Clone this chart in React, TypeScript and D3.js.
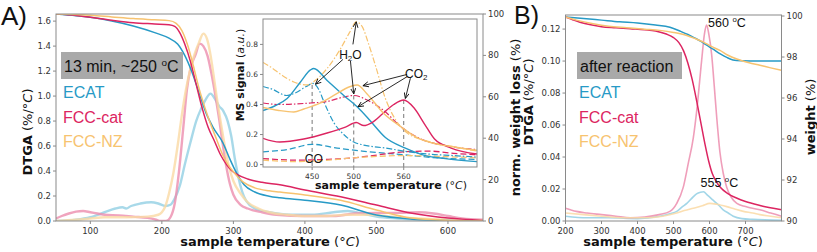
import React from 'react';
import * as d3 from 'd3';

type Pt = [number, number];

// sample names and colours (solid TGA line, light DTGA trace)
const samples = ['ECAT', 'FCC-cat', 'FCC-NZ'];
const lineColors = ['#279ac6', '#dc2561', '#f7c370'];
const traceColors = ['#92cfe4', '#ec8dae', '#fad9a4'];

// ---- panel A: normalised weight loss (%) vs temperature
const aEcatLoss: Pt[] = [[52, 100], [80, 99.2], [100, 98.4], [130, 96.6], [160, 94.2], [190, 91], [210, 88.3], [222, 85.5], [232, 80], [242, 72], [252, 62], [262, 52], [272, 45], [285, 38], [295, 30], [304, 23.5], [315, 17.5], [330, 14], [350, 12], [365, 11.2], [400, 10], [450, 7.7], [500, 2.9], [550, 0.9], [600, 0.2], [649, 0]];
const aCatLoss: Pt[] = [[52, 100], [80, 99.3], [100, 98.4], [130, 97], [160, 95.8], [190, 95.2], [210, 94.8], [218, 94], [225, 91], [232, 85.5], [240, 77], [248, 66], [256, 55], [265, 45], [273, 39], [282, 32], [290, 27.5], [297, 24.5], [305, 22.5], [320, 20.3], [340, 18.7], [365, 17.5], [400, 15], [450, 11.7], [500, 7.7], [550, 3.7], [600, 1.4], [649, 0.3]];
const aNzLoss: Pt[] = [[52, 100], [80, 99.8], [100, 99.4], [130, 98.6], [160, 97.8], [190, 97.2], [210, 96.8], [220, 95.5], [228, 92], [236, 85], [244, 75], [252, 64], [260, 55], [268, 47], [277, 39], [285, 32], [293, 27], [302, 23], [315, 18.5], [330, 16], [350, 14.6], [365, 14], [400, 12.6], [450, 10], [500, 5.3], [550, 1.4], [600, 0.3], [649, 0]];

// ---- panel A: DTGA (%/°C)
const aEcatDtga: Pt[] = [[52, 0], [80, 0.01], [100, 0.03], [120, 0.07], [135, 0.1], [145, 0.11], [150, 0.1], [157, 0.12], [170, 0.14], [185, 0.15], [195, 0.14], [205, 0.12], [212, 0.13], [218, 0.18], [225, 0.28], [232, 0.45], [240, 0.63], [248, 0.8], [255, 0.9], [262, 0.98], [268, 1.02], [274, 0.98], [280, 0.92], [286, 0.88], [292, 0.8], [297, 0.68], [302, 0.5], [307, 0.35], [312, 0.24], [318, 0.16], [330, 0.1], [350, 0.07], [380, 0.05], [410, 0.05], [440, 0.07], [460, 0.08], [480, 0.06], [500, 0.035], [530, 0.02], [560, 0.01], [600, 0.005], [649, 0]];
const aCatDtga: Pt[] = [[52, 0.02], [60, 0.04], [70, 0.06], [80, 0.075], [90, 0.08], [100, 0.07], [110, 0.06], [120, 0.05], [140, 0.045], [160, 0.035], [180, 0.025], [192, 0.01], [198, 0], [206, 0], [212, 0.03], [218, 0.14], [224, 0.4], [230, 0.75], [235, 1.05], [240, 1.22], [247, 1.33], [253, 1.42], [258, 1.4], [264, 1.32], [270, 1.16], [275, 1.0], [280, 0.82], [285, 0.62], [290, 0.44], [295, 0.3], [300, 0.21], [310, 0.13], [320, 0.1], [340, 0.07], [360, 0.05], [400, 0.04], [440, 0.04], [470, 0.06], [500, 0.065], [530, 0.065], [560, 0.07], [580, 0.06], [600, 0.04], [620, 0.02], [649, 0.01]];
const aNzDtga: Pt[] = [[52, 0], [80, 0.01], [100, 0.02], [120, 0.03], [150, 0.03], [180, 0.035], [195, 0.05], [200, 0.07], [205, 0.12], [210, 0.22], [216, 0.38], [222, 0.6], [228, 0.85], [234, 1.06], [240, 1.22], [246, 1.34], [252, 1.43], [258, 1.5], [263, 1.46], [268, 1.33], [272, 1.18], [277, 0.98], [282, 0.8], [288, 0.6], [294, 0.43], [300, 0.32], [310, 0.22], [320, 0.15], [335, 0.1], [350, 0.07], [375, 0.05], [400, 0.04], [430, 0.04], [460, 0.05], [490, 0.05], [520, 0.035], [560, 0.02], [600, 0.01], [649, 0.005]];

// ---- inset: MS signal (a.u.), H2O (dash-dot), CO2 (solid), CO (dashed)
const msEcatH2O: Pt[] = [[391, 0.52], [403, 0.5], [419, 0.46], [431, 0.48], [443, 0.52], [451, 0.54], [458, 0.5], [464, 0.42], [476, 0.28], [488, 0.2], [500, 0.15], [512, 0.13], [538, 0.11], [560, 0.09], [590, 0.07], [620, 0.06], [648, 0.05]];
const msCatH2O: Pt[] = [[391, 0.41], [411, 0.4], [448, 0.41], [468, 0.42], [488, 0.45], [500, 0.46], [516, 0.43], [536, 0.36], [557, 0.25], [577, 0.18], [617, 0.12], [648, 0.1]];
const msNzH2O: Pt[] = [[391, 0.68], [400, 0.65], [415, 0.59], [428, 0.55], [444, 0.53], [456, 0.57], [468, 0.64], [484, 0.77], [495, 0.88], [503, 0.95], [510, 0.92], [518, 0.8], [526, 0.66], [538, 0.44], [550, 0.3], [562, 0.22], [586, 0.16], [610, 0.13], [648, 0.09]];
const msEcatCO2: Pt[] = [[391, 0.36], [405, 0.39], [420, 0.44], [436, 0.55], [448, 0.63], [452, 0.64], [468, 0.56], [488, 0.46], [505, 0.38], [520, 0.29], [538, 0.18], [562, 0.11], [586, 0.06], [610, 0.04], [648, 0.02]];
const msCatCO2: Pt[] = [[391, 0.175], [411, 0.15], [440, 0.17], [468, 0.21], [490, 0.25], [503, 0.28], [512, 0.26], [522, 0.28], [535, 0.34], [548, 0.4], [560, 0.43], [572, 0.38], [585, 0.27], [597, 0.17], [617, 0.11], [648, 0.07]];
const msNzCO2: Pt[] = [[391, 0.38], [410, 0.36], [428, 0.35], [440, 0.37], [460, 0.41], [476, 0.46], [496, 0.52], [504, 0.53], [516, 0.47], [536, 0.34], [557, 0.25], [576, 0.18], [597, 0.14], [617, 0.12], [648, 0.095]];
const msEcatCO: Pt[] = [[391, 0.085], [420, 0.1], [450, 0.135], [480, 0.11], [510, 0.09], [540, 0.075], [570, 0.06], [600, 0.045], [648, 0.035]];
const msCatCO: Pt[] = [[391, 0.04], [430, 0.03], [470, 0.035], [500, 0.045], [530, 0.065], [560, 0.085], [590, 0.09], [620, 0.075], [648, 0.065]];
const msNzCO: Pt[] = [[391, 0.03], [430, 0.02], [470, 0.03], [500, 0.045], [530, 0.055], [560, 0.06], [600, 0.055], [648, 0.045]];
const msMarks = [450, 500, 560];
const msMarkTops = [0.53, 0.46, 0.43];

// ---- panel B: weight (%) and DTGA after reaction
const bEcatWeight: Pt[] = [[200, 99.95], [250, 99.88], [300, 99.8], [350, 99.72], [400, 99.66], [450, 99.56], [490, 99.45], [520, 99.25], [540, 99.1], [560, 98.92], [575, 98.78], [590, 98.6], [610, 98.38], [630, 98.15], [648, 97.98], [665, 97.86], [690, 97.82], [740, 97.8], [800, 97.8]];
const bCatWeight: Pt[] = [[200, 99.95], [220, 99.82], [240, 99.7], [270, 99.57], [300, 99.48], [340, 99.43], [380, 99.38], [420, 99.33], [450, 99.27], [480, 99.12], [500, 98.95], [515, 98.7], [528, 98.3], [540, 97.7], [552, 96.9], [565, 95.8], [577, 94.7], [588, 93.7], [598, 92.9], [608, 92.3], [618, 91.95], [630, 91.65], [650, 91.35], [675, 91.12], [700, 90.95], [740, 90.76], [800, 90.55]];
const bNzWeight: Pt[] = [[200, 99.95], [230, 99.8], [277, 99.62], [320, 99.5], [370, 99.43], [420, 99.36], [462, 99.3], [500, 99.2], [537, 99.05], [560, 98.9], [583, 98.73], [605, 98.52], [629, 98.32], [650, 98.1], [676, 97.9], [710, 97.72], [740, 97.6], [770, 97.47], [800, 97.35]];
const bEcatDtga: Pt[] = [[200, 0.003], [260, 0.002], [320, 0.002], [400, 0.0015], [462, 0.003], [490, 0.0045], [509, 0.006], [525, 0.009], [537, 0.011], [550, 0.014], [564, 0.017], [575, 0.018], [583, 0.0183], [595, 0.016], [610, 0.013], [625, 0.01], [638, 0.007], [652, 0.005], [666, 0.003], [690, 0.0015], [720, 0.001], [800, 0.0005]];
const bCatDtga: Pt[] = [[200, 0.008], [230, 0.006], [260, 0.005], [300, 0.004], [340, 0.003], [380, 0.002], [420, 0.0025], [460, 0.004], [490, 0.006], [509, 0.011], [527, 0.021], [541, 0.036], [555, 0.052], [565, 0.07], [578, 0.1], [586, 0.117], [592, 0.1225], [598, 0.117], [606, 0.104], [613, 0.085], [620, 0.065], [629, 0.043], [638, 0.03], [648, 0.021], [660, 0.015], [676, 0.011], [700, 0.009], [740, 0.007], [770, 0.005], [800, 0.003]];
const bNzDtga: Pt[] = [[200, 0.005], [250, 0.004], [300, 0.003], [360, 0.002], [420, 0.002], [470, 0.003], [509, 0.005], [530, 0.0065], [555, 0.008], [580, 0.0095], [601, 0.011], [620, 0.0105], [648, 0.009], [670, 0.0075], [694, 0.006], [720, 0.005], [740, 0.004], [770, 0.003], [800, 0.002]];

// ---- ticks
const aXTicks = [100, 200, 300, 400, 500, 600];
const aYTicks = [0, 0.2, 0.4, 0.6, 0.8, 1.0, 1.2, 1.4, 1.6];
const aY2Ticks = [0, 20, 40, 60, 80, 100];
const msXTicks = [450, 500, 560];
const msYTicks = [0, 0.2, 0.4, 0.6, 0.8];
const bXTicks = [200, 300, 400, 500, 600, 700];
const bYTicks = [0, 0.02, 0.04, 0.06, 0.08, 0.1, 0.12];
const bY2Ticks = [90, 92, 94, 96, 98, 100];

const TICK_FONT = 'DejaVu Sans, sans-serif';
const LABEL_FONT = 'DejaVu Sans, sans-serif';
const NOTE_FONT = 'Liberation Sans, Arial, sans-serif';
const SPINE = '#8a8a8a';
const TICK_TEXT = '#333';

type Scale = d3.ScaleLinear<number, number>;

function line(sx: Scale, sy: Scale) {
  return d3.line<Pt>().x(d => sx(d[0])).y(d => sy(d[1])).curve(d3.curveMonotoneX);
}

function Ticks({ scale, ticks, side, at, fmt, fs }: { scale: Scale; ticks: number[]; side: 'left' | 'right' | 'bottom'; at: number; fmt: (v: number) => string; fs: number }) {
  return (
    <g fontFamily={TICK_FONT} fontSize={fs} fill={TICK_TEXT}>
      {ticks.map(t => {
        const p = scale(t);
        if (side === 'bottom') {
          return (
            <g key={t}>
              <line x1={p} x2={p} y1={at} y2={at + 3} stroke={SPINE} />
              <text x={p} y={at + 4 + fs} textAnchor="middle">{fmt(t)}</text>
            </g>
          );
        }
        const dir = side === 'left' ? -1 : 1;
        return (
          <g key={t}>
            <line x1={at} x2={at + dir * 3} y1={p} y2={p} stroke={SPINE} />
            <text x={at + dir * 5} y={p} dy="0.35em" textAnchor={side === 'left' ? 'end' : 'start'}>{fmt(t)}</text>
          </g>
        );
      })}
    </g>
  );
}

function DegC({ size }: { size: number }) {
  return (
    <>
      <tspan fontSize={size * 0.62} dy={-size * 0.38}>o</tspan>
      <tspan dy={size * 0.38}>C</tspan>
    </>
  );
}

function Legend({ x, y, box, w, deg }: { x: number; y: number; box: string; w: number; deg: boolean }) {
  return (
    <g fontFamily={NOTE_FONT} fontSize={16}>
      <rect x={x} y={y} width={w} height={27} fill="#a9a9a9" />
      <text x={x + 3} y={y + 20} fill="#111">
        {box}{deg ? <DegC size={16} /> : null}
      </text>
      {samples.map((s, i) => (
        <text key={s} x={x + 2} y={y + 46 + i * 24.5} fill={lineColors[i]}>{s}</text>
      ))}
    </g>
  );
}

export default function App() {
  // panel A
  const ax = d3.scaleLinear().domain([52, 649]).range([56, 483]);
  const ay = d3.scaleLinear().domain([0, 1.657]).range([221, 14]);
  const ay2 = d3.scaleLinear().domain([0, 100]).range([221, 14]);
  // inset
  const ix = d3.scaleLinear().domain([391, 648]).range([263, 477]);
  const iy = d3.scaleLinear().domain([-0.016, 0.969]).range([167, 19]);
  // panel B
  const bx = d3.scaleLinear().domain([200, 800]).range([565.5, 781.5]);
  const by = d3.scaleLinear().domain([0, 0.1288]).range([221, 15]);
  const by2 = d3.scaleLinear().domain([90, 100.05]).range([221, 15]);

  const aDtga = line(ax, ay);
  const aLoss = line(ax, ay2);
  const ms = line(ix, iy);
  const bDtga = line(bx, by);
  const bW = line(bx, by2);

  const aTraces = [aEcatDtga, aCatDtga, aNzDtga];
  const aLines = [aEcatLoss, aCatLoss, aNzLoss];
  const h2o = [msEcatH2O, msCatH2O, msNzH2O];
  const co2 = [msEcatCO2, msCatCO2, msNzCO2];
  const co = [msEcatCO, msCatCO, msNzCO];
  const bTraces = [bEcatDtga, bCatDtga, bNzDtga];
  const bLines = [bEcatWeight, bCatWeight, bNzWeight];

  // annotation arrows in inset data coordinates: [from, to]
  const h2oArrows: [Pt, Pt][] = [[[499, 0.8], [503, 0.95]], [[487, 0.7], [454, 0.535]], [[496, 0.69], [500, 0.47]]];
  const co2Arrows: [Pt, Pt][] = [[[564, 0.6], [511, 0.525]], [[564, 0.585], [505, 0.385]], [[568, 0.575], [562, 0.44]]];

  return (
    <svg width={817} height={252} style={{ position: 'absolute', left: 0, top: 0, background: '#fff' }}>
      <defs>
        <clipPath id="clipA"><rect x={56} y={14} width={427} height={207} /></clipPath>
        <clipPath id="clipI"><rect x={263} y={19} width={214} height={148} /></clipPath>
        <clipPath id="clipB"><rect x={565.5} y={15} width={216} height={206} /></clipPath>
        <marker id="arr" viewBox="0 0 10 10" refX={9} refY={5} markerWidth={7} markerHeight={7} orient="auto-start-reverse">
          <path d="M0,1 L9,5 L0,9" fill="none" stroke="#111" strokeWidth={1.4} />
        </marker>
      </defs>

      {/* ---------- panel A ---------- */}
      <text x={1} y={25} fontFamily={NOTE_FONT} fontSize={26} fill="#111">A)</text>
      <g clipPath="url(#clipA)">
        {aTraces.map((d, i) => (
          <path key={i} d={aDtga(d) || ''} fill="none" stroke={traceColors[i]} strokeWidth={2.4} opacity={0.8} />
        ))}
        {aLines.map((d, i) => (
          <path key={i} d={aLoss(d) || ''} fill="none" stroke={lineColors[i]} strokeWidth={1.5} />
        ))}
      </g>
      <rect x={56} y={14} width={427} height={207} fill="none" stroke={SPINE} />
      <Ticks scale={ax} ticks={aXTicks} side="bottom" at={221} fmt={d3.format('d')} fs={8.5} />
      <Ticks scale={ay} ticks={aYTicks} side="left" at={56} fmt={d3.format('.1f')} fs={8.5} />
      <Ticks scale={ay2} ticks={aY2Ticks} side="right" at={483} fmt={d3.format('d')} fs={8.5} />
      <text x={270} y={246} textAnchor="middle" fontFamily={LABEL_FONT} fontSize={13} fill="#111">
        <tspan fontWeight="bold">sample temperature</tspan> (°<tspan fontStyle="italic">C</tspan>)
      </text>
      <text transform="translate(32,132) rotate(-90)" textAnchor="middle" fontFamily={LABEL_FONT} fontSize={13} fill="#111">
        <tspan fontWeight="bold">DTGA</tspan> (%/°<tspan fontStyle="italic">C</tspan>)
      </text>
      <text transform="translate(520,117.5) rotate(-90)" textAnchor="middle" fontFamily={LABEL_FONT} fontSize={13} fill="#111">
        <tspan fontWeight="bold">norm. weight loss</tspan> (%)
      </text>
      <Legend x={61} y={52} box="13 min, ~250 " w={122} deg={true} />

      {/* ---------- inset ---------- */}
      <rect x={263} y={19} width={214} height={148} fill="#fff" />
      <g clipPath="url(#clipI)">
        {msMarks.map((m, i) => (
          <line key={m} x1={ix(m)} x2={ix(m)} y1={iy(msMarkTops[i])} y2={167} stroke="#777" strokeWidth={1} strokeDasharray="4,3" />
        ))}
        {co.map((d, i) => (
          <path key={'co' + i} d={ms(d) || ''} fill="none" stroke={lineColors[i]} strokeWidth={1.3} strokeDasharray="6,3" />
        ))}
        {h2o.map((d, i) => (
          <path key={'h' + i} d={ms(d) || ''} fill="none" stroke={lineColors[i]} strokeWidth={1.2} strokeDasharray="6,2,1.5,2" />
        ))}
        {co2.map((d, i) => (
          <path key={'c' + i} d={ms(d) || ''} fill="none" stroke={lineColors[i]} strokeWidth={1.4} />
        ))}
        {[...h2oArrows, ...co2Arrows].map(([f, t], i) => (
          <line key={'a' + i} x1={ix(f[0])} y1={iy(f[1])} x2={ix(t[0])} y2={iy(t[1])} stroke="#111" strokeWidth={0.9} markerEnd="url(#arr)" />
        ))}
      </g>
      <rect x={263} y={19} width={214} height={148} fill="none" stroke={SPINE} />
      <Ticks scale={ix} ticks={msXTicks} side="bottom" at={167} fmt={d3.format('d')} fs={7.5} />
      <Ticks scale={iy} ticks={msYTicks} side="left" at={263} fmt={d3.format('.1f')} fs={7.5} />
      <text x={391} y={189} textAnchor="middle" fontFamily={LABEL_FONT} fontSize={11} fill="#111">
        <tspan fontWeight="bold">sample temperature</tspan> (°<tspan fontStyle="italic">C</tspan>)
      </text>
      <text transform="translate(244,75) rotate(-90)" textAnchor="middle" fontFamily={LABEL_FONT} fontSize={11} fill="#111">
        <tspan fontWeight="bold">MS signal</tspan> (<tspan fontStyle="italic">a.u.</tspan>)
      </text>
      <g fontFamily={NOTE_FONT} fontSize={12} fill="#111" textAnchor="middle">
        <text x={ix(496)} y={iy(0.705)}>H<tspan fontSize={8} dy={2}>2</tspan><tspan dy={-2}>O</tspan></text>
        <text x={ix(575)} y={iy(0.575)}>CO<tspan fontSize={8} dy={2}>2</tspan></text>
        <text x={ix(452)} y={iy(0.012)}>CO</text>
      </g>

      {/* ---------- panel B ---------- */}
      <text x={514} y={24} fontFamily={NOTE_FONT} fontSize={25} fill="#111">B)</text>
      <g clipPath="url(#clipB)">
        {bTraces.map((d, i) => (
          <path key={i} d={bDtga(d) || ''} fill="none" stroke={traceColors[i]} strokeWidth={1.6} opacity={0.85} />
        ))}
        {bLines.map((d, i) => (
          <path key={i} d={bW(d) || ''} fill="none" stroke={lineColors[i]} strokeWidth={1.5} />
        ))}
      </g>
      <rect x={565.5} y={15} width={216} height={206} fill="none" stroke={SPINE} />
      <Ticks scale={bx} ticks={bXTicks} side="bottom" at={221} fmt={d3.format('d')} fs={8.5} />
      <Ticks scale={by} ticks={bYTicks} side="left" at={565.5} fmt={d3.format('.2f')} fs={8.5} />
      <Ticks scale={by2} ticks={bY2Ticks} side="right" at={781.5} fmt={d3.format('d')} fs={8.5} />
      <text x={673} y={246} textAnchor="middle" fontFamily={LABEL_FONT} fontSize={13} fill="#111">
        <tspan fontWeight="bold">sample temperature</tspan> (°<tspan fontStyle="italic">C</tspan>)
      </text>
      <text transform="translate(533,102) rotate(-90)" textAnchor="middle" fontFamily={LABEL_FONT} fontSize={13} fill="#111">
        <tspan fontWeight="bold">DTGA</tspan> (%/°<tspan fontStyle="italic">C</tspan>)
      </text>
      <text transform="translate(815,117) rotate(-90)" textAnchor="middle" fontFamily={LABEL_FONT} fontSize={13} fill="#111">
        <tspan fontWeight="bold">weight</tspan> (%)
      </text>
      <Legend x={577} y={52} box="after reaction" w={105} deg={false} />
      <g fontFamily={NOTE_FONT} fontSize={12.5} fill="#111">
        <text x={bx(596)} y={by(0.1215)}>560 <DegC size={12.5} /></text>
        <text x={bx(575)} y={by(0.0215)}>555 <DegC size={12.5} /></text>
      </g>
    </svg>
  );
}
